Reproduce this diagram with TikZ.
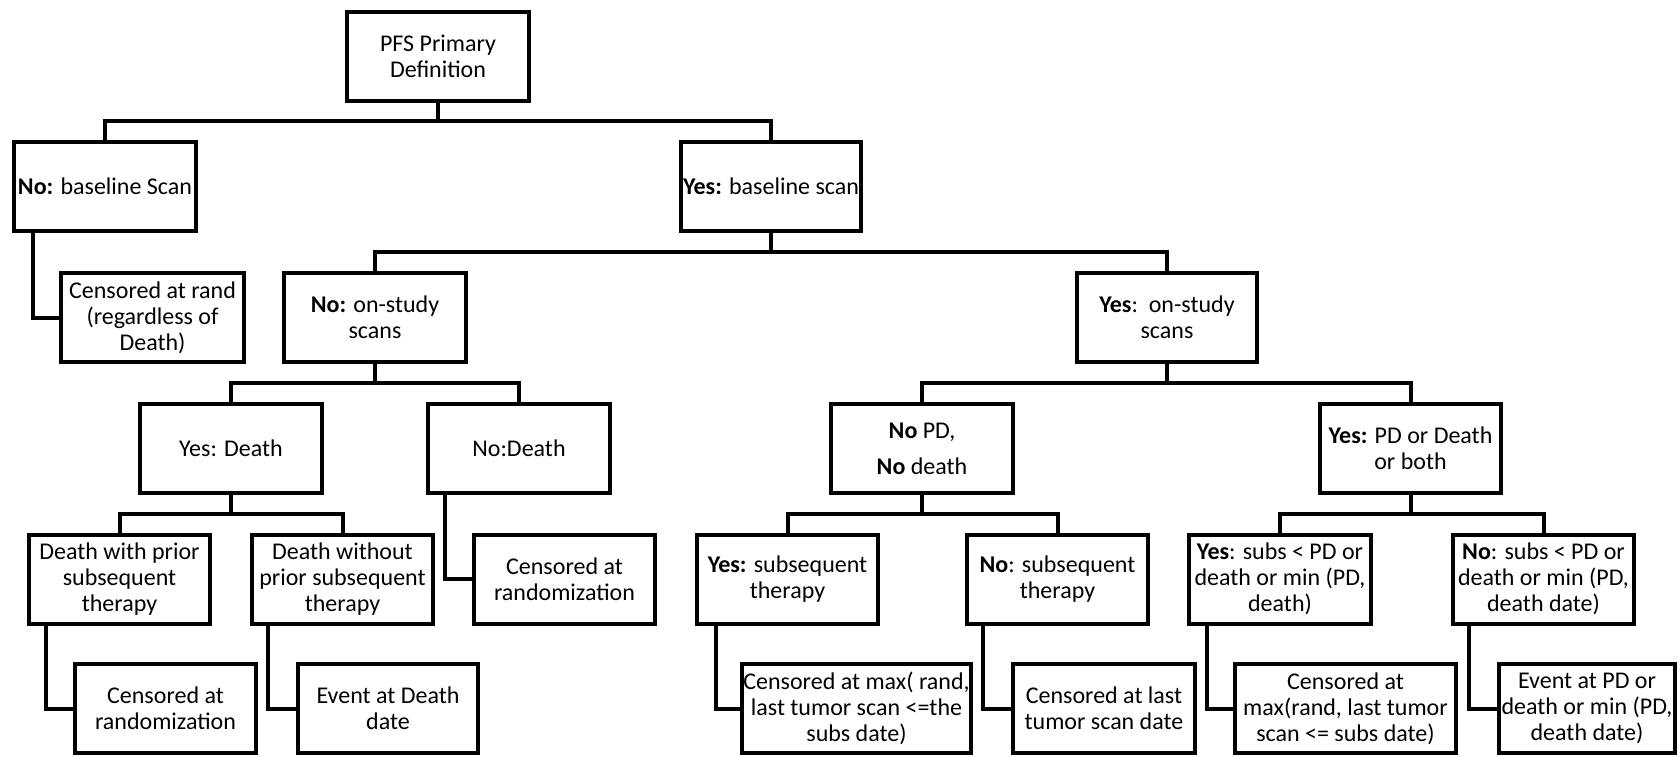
\documentclass[tikz,border=0pt]{standalone}
\usepackage{fontspec}
\setmainfont{Carlito}
\begin{document}
\begin{tikzpicture}[x=1pt,y=-1pt,
  box/.style={draw, line width=4pt, align=center, inner sep=0pt,
    minimum height=89pt, font=\fontsize{24}{26}\selectfont},
  link/.style={line width=4pt}]
\useasboundingbox (0,0) rectangle (1680,756);

% bus lines of the tree
\coordinate (busA) at (0,121);
\coordinate (busB) at (0,252);
\coordinate (busC) at (0,383);
\coordinate (busD) at (0,514);

% level 1
\node[box, minimum width=182pt] (pfs) at (438,56) {PFS Primary\\Definition};

% level 2
\node[box, minimum width=182pt] (nobase) at (105,186) {\textbf{No:} baseline Scan};
\node[box, minimum width=180pt] (yesbase) at (771,186) {\textbf{Yes:} baseline scan};

% level 3
\node[box, minimum width=183pt] (censrand) at (152.5,317.5) {Censored at rand\\(regardless of\\Death)};
\node[box, minimum width=182pt] (nostudy) at (375,317.5) {\textbf{No:} on-study\\scans};
\node[box, minimum width=180pt] (yesstudy) at (1167,317.5) {\textbf{Yes}:\ \ on-study\\scans};

% level 4
\node[box, minimum width=182pt] (yesdeath) at (231,448.5) {Yes: Death};
\node[box, minimum width=182pt] (nodeath) at (519,448.5) {No:Death};
\node[box, minimum width=182pt] (nopd) at (922,448.5) {\textbf{No} PD,\\[10pt]\textbf{No} death};
\node[box, minimum width=181pt] (yespd) at (1410.5,448.5) {\textbf{Yes:} PD or Death\\or both};

% level 5
\node[box, minimum width=181pt] (deathwith) at (119.5,579) {Death with prior\\subsequent\\therapy};
\node[box, minimum width=181pt] (deathwithout) at (342.5,579) {Death without\\prior subsequent\\therapy};
\node[box, minimum width=181pt] (censrandB) at (564.5,579) {Censored at\\randomization};
\node[box, minimum width=181pt] (yessubs) at (787.5,579) {\textbf{Yes:} subsequent\\therapy};
\node[box, minimum width=181pt] (nosubs) at (1057.5,579) {\textbf{No}: subsequent\\therapy};
\node[box, minimum width=182pt] (yessubspd) at (1280,579) {\textbf{Yes}: subs < PD or\\death or min (PD,\\death)};
\node[box, minimum width=181pt] (nosubspd) at (1543.5,579) {\textbf{No}: subs < PD or\\death or min (PD,\\death date)};

% level 6
\node[box, minimum width=181pt] (censrandC) at (165.5,708.5) {Censored at\\randomization};
\node[box, minimum width=180pt] (eventdeath) at (388,708.5) {Event at Death\\date};
\node[box, minimum width=229pt] (censmax) at (856.5,708.5) {Censored at max( rand,\\last tumor scan <=the\\subs date)};
\node[box, minimum width=182pt] (censlast) at (1104,708.5) {Censored at last\\tumor scan date};
\node[box, minimum width=221pt] (censmaxB) at (1345.5,708.5) {Censored at\\max(rand, last tumor\\scan <= subs date)};
\node[box, minimum width=176pt] (eventpd) at (1587,708.5) {Event at PD or\\death or min (PD,\\death date)};

% branching connectors
\draw[link] (pfs.south) -- (pfs.south |- busA);
\draw[link] (nobase.north) -- (nobase.north |- busA) -- (yesbase.north |- busA) -- (yesbase.north);

\draw[link] (yesbase.south) -- (yesbase.south |- busB);
\draw[link] (nostudy.north) -- (nostudy.north |- busB) -- (yesstudy.north |- busB) -- (yesstudy.north);

\draw[link] (nostudy.south) -- (nostudy.south |- busC);
\draw[link] (yesdeath.north) -- (yesdeath.north |- busC) -- (nodeath.north |- busC) -- (nodeath.north);

\draw[link] (yesstudy.south) -- (yesstudy.south |- busC);
\draw[link] (nopd.north) -- (nopd.north |- busC) -- (yespd.north |- busC) -- (yespd.north);

\draw[link] (yesdeath.south) -- (yesdeath.south |- busD);
\draw[link] (deathwith.north) -- (deathwith.north |- busD) -- (deathwithout.north |- busD) -- (deathwithout.north);

\draw[link] (nopd.south) -- (nopd.south |- busD);
\draw[link] (yessubs.north) -- (yessubs.north |- busD) -- (nosubs.north |- busD) -- (nosubs.north);

\draw[link] (yespd.south) -- (yespd.south |- busD);
\draw[link] (yessubspd.north) -- (yessubspd.north |- busD) -- (nosubspd.north |- busD) -- (nosubspd.north);

% elbow connectors to outcome boxes
\draw[link] ([xshift=21pt]nobase.south west) |- (censrand.west);
\draw[link] ([xshift=19pt]nodeath.south west) |- (censrandB.west);
\draw[link] ([xshift=19pt]deathwith.south west) |- (censrandC.west);
\draw[link] ([xshift=18pt]deathwithout.south west) |- (eventdeath.west);
\draw[link] ([xshift=21pt]yessubs.south west) |- (censmax.west);
\draw[link] ([xshift=18pt]nosubs.south west) |- (censlast.west);
\draw[link] ([xshift=20pt]yessubspd.south west) |- (censmaxB.west);
\draw[link] ([xshift=18pt]nosubspd.south west) |- (eventpd.west);
\end{tikzpicture}
\end{document}
